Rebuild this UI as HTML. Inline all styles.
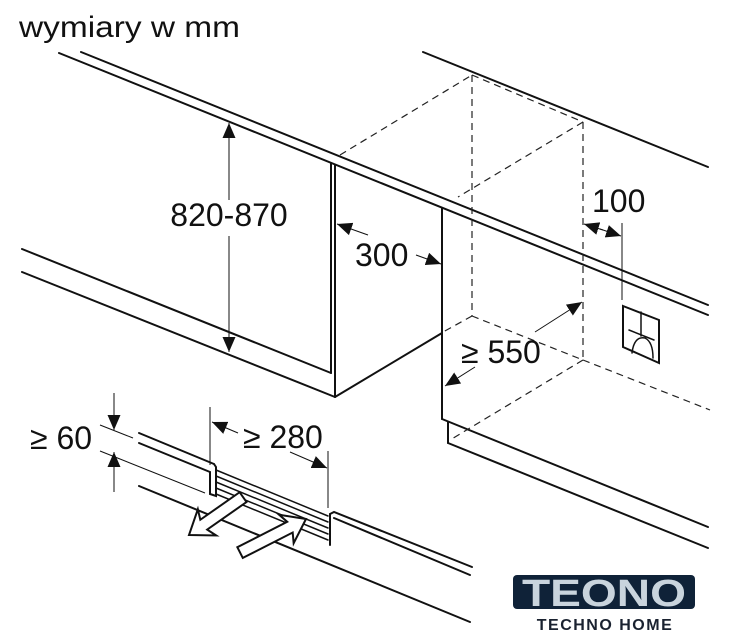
<!DOCTYPE html>
<html><head><meta charset="utf-8"><style>
html,body{margin:0;padding:0;background:#fff;width:730px;height:640px;overflow:hidden}
svg{display:block}
text{font-family:"Liberation Sans",Arial,sans-serif;fill:#111}
</style></head><body>
<svg width="730" height="640" viewBox="0 0 730 640" xmlns="http://www.w3.org/2000/svg">
<defs>
<marker id="ah" viewBox="0 0 10 10" refX="10" refY="5" markerWidth="15" markerHeight="13" markerUnits="userSpaceOnUse" orient="auto" preserveAspectRatio="none"><path d="M0,0 L10,5 L0,10 z" fill="#111"/></marker>
</defs>
<text x="19" y="37" font-size="30" textLength="221" lengthAdjust="spacingAndGlyphs">wymiary w mm</text>

<g stroke="#111" stroke-width="2" fill="none" stroke-linecap="round">
<line x1="59" y1="53" x2="708" y2="315"/>
<line x1="81" y1="52" x2="708" y2="305"/>
<line x1="423" y1="52" x2="708" y2="167"/>
<line x1="22" y1="249" x2="331" y2="373"/>
<line x1="22" y1="272" x2="335" y2="397"/>
<line x1="331" y1="163" x2="331" y2="373"/>
<line x1="335" y1="165" x2="335" y2="397"/>
<line x1="335" y1="397" x2="442" y2="333"/>
<line x1="442" y1="208" x2="442" y2="419"/>
<line x1="442" y1="419" x2="708" y2="527"/>
<line x1="448" y1="422" x2="448" y2="443"/>
<line x1="448" y1="443" x2="708" y2="548"/>
<path d="M623,306 L659,320 L659,363 L623,347 Z"/>
<path d="M641,312 L641,336 M629,330 L654,340 M632,353 Q634,336 645,338 Q653,342 653,358" stroke-width="1.5"/>
<line x1="139" y1="433" x2="214" y2="464"/>
<line x1="139" y1="443" x2="210" y2="472"/>
<line x1="139" y1="486" x2="470" y2="622"/>
<path d="M214,464 L216,467 L216,496 L210,494 L210,472"/>
<path d="M216,470 L328,516 M216,476 L328,522 M216,482 L328,528 M216,488 L328,534 M216,494 L328,540" stroke-width="1.5"/>
<line x1="330" y1="514" x2="330" y2="545"/>
<path d="M330,514 L334,512 L472,567 M334,518 L470,575"/>
</g>

<g fill="#fff" stroke="#111" stroke-width="2" stroke-linejoin="miter">
<polygon transform="translate(189,535) rotate(145)" points="0,0 -22,-16 -18,-6 -66,-6 -66,6 -18,6 -22,16"/>
<polygon transform="translate(306,519) rotate(-27)" points="0,0 -22,-16 -18,-6 -74,-6 -74,6 -18,6 -22,16"/>
</g>

<g stroke="#222" stroke-width="1.2" fill="none" stroke-dasharray="7,5">
<line x1="340" y1="155" x2="472" y2="75"/>
<line x1="472" y1="75" x2="583" y2="122"/>
<line x1="583" y1="122" x2="458" y2="197"/>
<line x1="472" y1="75" x2="472" y2="316"/>
<line x1="583" y1="122" x2="583" y2="360"/>
<line x1="472" y1="316" x2="583" y2="360"/>
<line x1="472" y1="316" x2="443" y2="332"/>
<line x1="583" y1="360" x2="450" y2="440"/>
<line x1="583" y1="360" x2="710" y2="410"/>
</g>

<g stroke="#111" stroke-width="1" fill="none">
<line x1="229" y1="200" x2="229" y2="123" marker-end="url(#ah)"/>
<line x1="229" y1="236" x2="229" y2="352" marker-end="url(#ah)"/>
<line x1="368" y1="235" x2="337" y2="224" marker-end="url(#ah)"/>
<line x1="416" y1="255" x2="441" y2="264" marker-end="url(#ah)"/>
<line x1="475" y1="367" x2="445" y2="386" marker-end="url(#ah)"/>
<line x1="535" y1="332" x2="582" y2="302" marker-end="url(#ah)"/>
<line x1="603" y1="230" x2="584" y2="224" marker-end="url(#ah)"/>
<line x1="600" y1="229" x2="621" y2="236" marker-end="url(#ah)"/>
<line x1="622" y1="223" x2="622" y2="300"/>
<line x1="114" y1="393" x2="114" y2="430" marker-end="url(#ah)"/>
<line x1="114" y1="492" x2="114" y2="452" marker-end="url(#ah)"/>
<line x1="100" y1="425" x2="133" y2="438"/>
<line x1="100" y1="451" x2="205" y2="493"/>
<line x1="210" y1="407" x2="210" y2="465"/>
<line x1="328" y1="451" x2="328" y2="508"/>
<line x1="238" y1="433" x2="212" y2="422" marker-end="url(#ah)"/>
<line x1="290" y1="452" x2="327" y2="468" marker-end="url(#ah)"/>
</g>

<g font-size="32">
<text x="229" y="226" text-anchor="middle">820-870</text>
<text x="355" y="266">300</text>
<text x="461" y="363">≥ 550</text>
<text x="592" y="212">100</text>
<text x="30" y="449">≥ 60</text>
<text x="243" y="448">≥ 280</text>
</g>

<rect x="513" y="575" width="182" height="34" rx="4" fill="#0f2238"/>
<text x="604" y="606" text-anchor="middle" font-size="38" font-weight="bold" style="fill:#c9d4dd" textLength="164" lengthAdjust="spacingAndGlyphs">TEONO</text>
<text x="605" y="630" text-anchor="middle" font-size="16" font-weight="bold" style="fill:#1a2230" letter-spacing="1.5">TECHNO HOME</text>
</svg>
</body></html>
